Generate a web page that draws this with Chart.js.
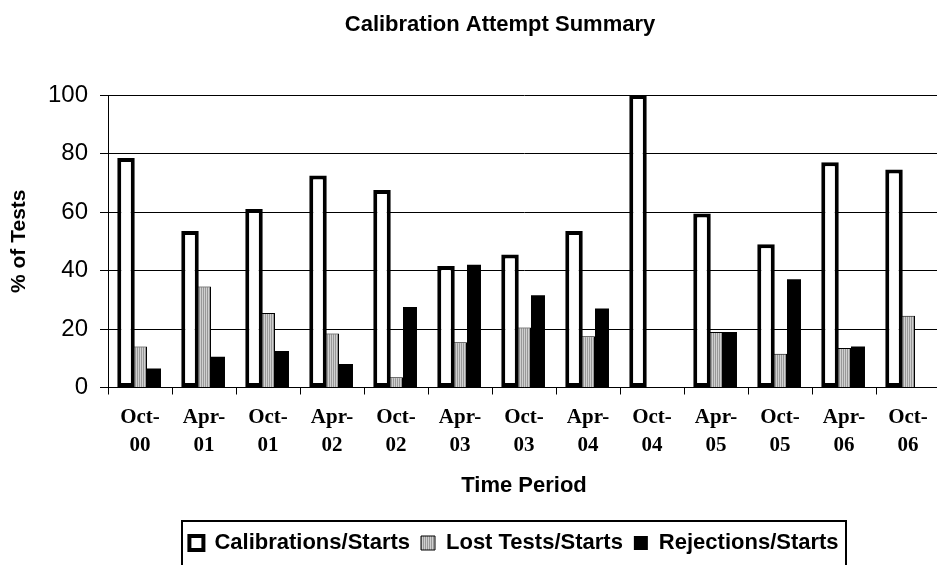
<!DOCTYPE html>
<html>
<head>
<meta charset="utf-8">
<title>Calibration Attempt Summary</title>
<script src="https://cdn.jsdelivr.net/npm/chart.js@4.4.0/dist/chart.umd.min.js"></script>
<style>
  html, body { margin: 0; padding: 0; background: #fff; overflow: hidden; }
  #wrap { position: absolute; left: 0; top: 0; width: 945px; height: 565px; }
</style>
</head>
<body>
<div id="wrap"><canvas id="chart1" width="945" height="565"></canvas></div>
<script>
// values (% of tests)
var periods = ['Oct-00', 'Apr-01', 'Oct-01', 'Apr-02', 'Oct-02', 'Apr-03', 'Oct-03',
               'Apr-04', 'Oct-04', 'Apr-05', 'Oct-05', 'Apr-06', 'Oct-06'];
var calibrations = [78.5, 53.5, 61, 72.5, 67.5, 41.5, 45.5, 53.5, 100, 59.5, 49, 77, 74.5];
var lostTests    = [14, 34.5, 25.5, 18.5, 3.5, 15.5, 20.5, 17.5, 0, 19, 11.5, 13.5, 24.5];
var rejections   = [6.5, 10.5, 12.5, 8, 27.5, 42, 31.5, 27, 0, 19, 37, 14, 0];
var yMax = 100;
var yStep = 20;

var sans = '"Liberation Sans", Arial, sans-serif';
var serif = '"Liberation Serif", "Times New Roman", serif';

var ctx = document.getElementById('chart1').getContext('2d');

// fine vertical stripes for the "lost tests" bars
function stripes() {
    var c = document.createElement('canvas');
    c.width = 2;
    c.height = 4;
    var g = c.getContext('2d');
    g.fillStyle = '#d0d0d0';
    g.fillRect(0, 0, 1, 4);
    g.fillStyle = '#989898';
    g.fillRect(1, 0, 1, 4);
    return ctx.createPattern(c, 'repeat');
}

// chart title, legend nudge and the frame round the legend
var extras = {
    id: 'extras',
    afterLayout: function(chart) {
        // the legend sits a little left of the plot centre
        chart.legend.left -= 10;
        chart.legend.right -= 10;
    },
    afterDraw: function(chart) {
        var c = chart.ctx;
        c.save();
        c.fillStyle = '#000';
        c.font = 'bold 22px ' + sans;
        c.textAlign = 'center';
        c.textBaseline = 'middle';
        c.fillText('Calibration Attempt Summary', 500, 25);

        // frame is cut off by the bottom edge of the picture
        var boxes = chart.legend.legendHitBoxes;
        var first = boxes[0], last = boxes[boxes.length - 1];
        var x0 = Math.round(first.left - 7);
        var x1 = Math.round(last.left + last.width + 7);
        var y0 = Math.round(first.top - 11);
        var y1 = y0 + 60;
        c.strokeStyle = '#000';
        c.lineWidth = 2;
        c.strokeRect(x0, y0, x1 - x0, y1 - y0);
        c.restore();
    }
};

var data = {
    labels: periods,
    datasets: [{
            label: 'Calibrations/Starts',
            data: calibrations,
            backgroundColor: '#ffffff',
            borderColor: '#000000',
            borderWidth: 4,
            borderSkipped: false,
            barPercentage: 1.25
        },
        {
            label: 'Lost Tests/Starts',
            data: lostTests,
            backgroundColor: stripes(),
            borderColor: '#000000',
            borderWidth: 1
        },
        {
            label: 'Rejections/Starts',
            data: rejections,
            backgroundColor: '#000000',
            borderColor: '#000000',
            borderWidth: 0
        }
    ]
};

var chart1 = new Chart(ctx, {
    type: 'bar',
    data: data,
    plugins: [extras],
    options: {
        responsive: false,
        animation: false,
        layout: { padding: { top: 95, right: 5, bottom: 1, left: 0 } },
        datasets: { bar: { categoryPercentage: 0.656, barPercentage: 1 } },
        plugins: {
            title: { display: false },
            tooltip: { enabled: false },
            legend: {
                position: 'bottom',
                fullSize: false,
                labels: {
                    color: '#000',
                    boxWidth: 14,
                    boxHeight: 14,
                    padding: 11,
                    font: { family: sans, size: 22, weight: 'bold' }
                }
            }
        },
        scales: {
            x: {
                afterFit: function(scale) { scale.height = 133.5; },
                grid: {
                    offset: true,
                    drawOnChartArea: false,
                    color: '#000',
                    tickLength: 7
                },
                border: { color: '#000', width: 1 },
                ticks: {
                    autoSkip: false,
                    maxRotation: 0,
                    padding: 9.5,
                    color: '#000',
                    font: { family: serif, size: 21, weight: 'bold', lineHeight: 1.333 },
                    callback: function(v, i) {
                        var p = periods[i].split('-');
                        return [p[0] + '-', p[1]];
                    }
                },
                title: {
                    display: true,
                    text: 'Time Period',
                    color: '#000',
                    font: { family: sans, size: 22, weight: 'bold' },
                    padding: { top: 0, bottom: 22 }
                }
            },
            y: {
                min: 0,
                max: yMax,
                afterFit: function(scale) { scale.width = 108; },
                grid: { color: '#000', lineWidth: 1, tickLength: 8 },
                border: { color: '#000', width: 1 },
                ticks: {
                    stepSize: yStep,
                    padding: 12,
                    color: '#000',
                    font: { family: sans, size: 24 }
                },
                title: {
                    display: true,
                    text: '% of Tests',
                    color: '#000',
                    font: { family: sans, size: 21, weight: 'bold' },
                    padding: { top: 7, bottom: 0 }
                }
            }
        }
    }
});
</script>
</body>
</html>
